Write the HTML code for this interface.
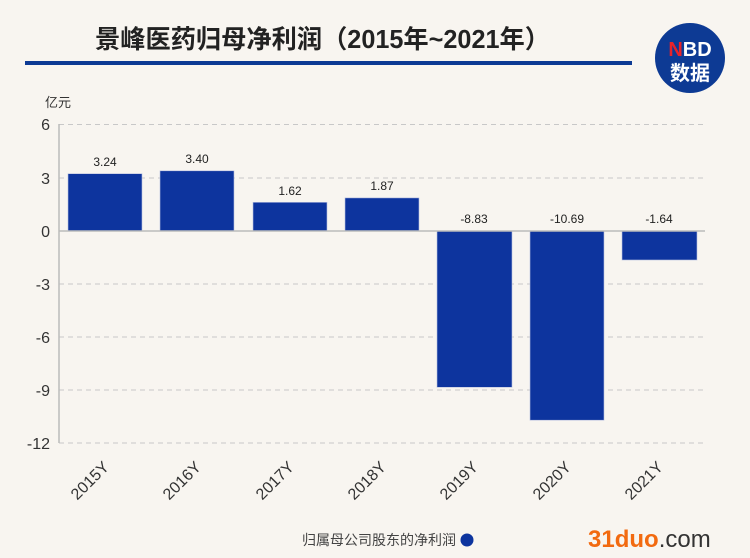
<!DOCTYPE html>
<html><head><meta charset="utf-8"><style>
body{margin:0;background:#f8f5f0;}
svg{display:block;font-family:"Liberation Sans","Noto Sans CJK SC",sans-serif;}
</style></head><body>
<svg width="750" height="558" viewBox="0 0 750 558" xmlns="http://www.w3.org/2000/svg">
<rect width="750" height="558" fill="#f8f5f0"/>
<text x="95" y="48" font-size="25.5" font-weight="bold" fill="#222" textLength="455" lengthAdjust="spacingAndGlyphs">景峰医药归母净利润（2015年~2021年）</text>
<rect x="25" y="61" width="607" height="4" fill="#0d3a94"/>
<circle cx="690" cy="58" r="35" fill="#0d3a94"/>
<text x="690" y="56" font-size="20" font-weight="bold" fill="#fff" text-anchor="middle"><tspan fill="#e8232a">N</tspan>BD</text>
<text x="690" y="80" font-size="20" font-weight="bold" fill="#fff" text-anchor="middle">数据</text>
<text x="45" y="107" font-size="13" fill="#333">亿元</text>
<g stroke="#c8c8c8" stroke-dasharray="5,4" stroke-width="1">
<line x1="59" y1="124.5" x2="705" y2="124.5"/>
<line x1="59" y1="178" x2="705" y2="178"/>
<line x1="59" y1="284" x2="705" y2="284"/>
<line x1="59" y1="337" x2="705" y2="337"/>
<line x1="59" y1="390" x2="705" y2="390"/>
<line x1="59" y1="443" x2="705" y2="443"/>
</g>
<line x1="59" y1="124" x2="59" y2="443" stroke="#bbb" stroke-width="1.5"/>
<g font-size="16" fill="#333" text-anchor="end">
<text x="50" y="130">6</text><text x="50" y="184">3</text><text x="50" y="237">0</text>
<text x="50" y="290">-3</text><text x="50" y="343">-6</text><text x="50" y="396">-9</text><text x="50" y="449">-12</text>
</g>
<g fill="#0d349e" stroke="#b8c0e0" stroke-width="0.6">
<rect x="68" y="173.7" width="74" height="57.3"/>
<rect x="160" y="170.8" width="74" height="60.2"/>
<rect x="253" y="202.3" width="74" height="28.7"/>
<rect x="345" y="197.9" width="74" height="33.1"/>
<rect x="437" y="231" width="75" height="156.3"/>
<rect x="530" y="231" width="74" height="189.2"/>
<rect x="622" y="231" width="75" height="29"/>
</g>
<line x1="59" y1="231" x2="705" y2="231" stroke="#bbb" stroke-width="1.5"/>
<g font-size="12" fill="#222" text-anchor="middle">
<text x="105" y="166">3.24</text><text x="197" y="163">3.40</text><text x="290" y="195">1.62</text>
<text x="382" y="190">1.87</text><text x="474" y="223">-8.83</text><text x="567" y="223">-10.69</text><text x="659" y="223">-1.64</text>
</g>
<g font-size="16" fill="#333" text-anchor="end">
<text transform="translate(110,468) rotate(-45)">2015Y</text>
<text transform="translate(202,468) rotate(-45)">2016Y</text>
<text transform="translate(295,468) rotate(-45)">2017Y</text>
<text transform="translate(387,468) rotate(-45)">2018Y</text>
<text transform="translate(479,468) rotate(-45)">2019Y</text>
<text transform="translate(572,468) rotate(-45)">2020Y</text>
<text transform="translate(664,468) rotate(-45)">2021Y</text>
</g>
<text x="302" y="545" font-size="14" fill="#444">归属母公司股东的净利润</text>
<circle cx="467" cy="540" r="6.5" fill="#0d349e"/>
<text x="588" y="547" font-size="24" font-weight="bold" fill="#f26a10">31duo<tspan fill="#333" font-weight="normal">.com</tspan></text>
</svg>
</body></html>
